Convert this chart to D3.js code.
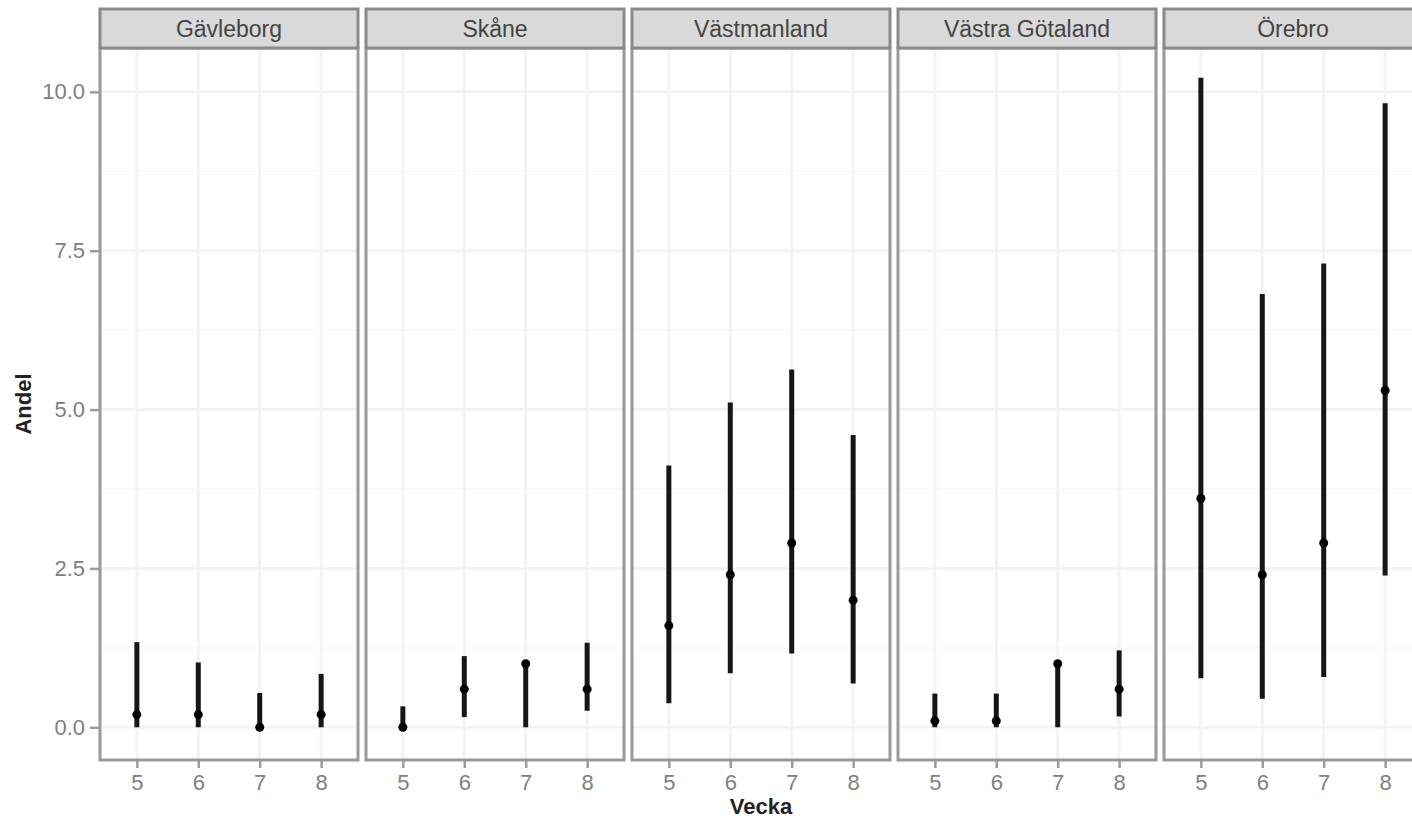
<!DOCTYPE html>
<html>
<head>
<meta charset="utf-8">
<script src="https://cdn.jsdelivr.net/npm/d3@7"></script>
<style>
  body { margin: 0; background: #fff; }
  svg { display: block; font-family: "Liberation Sans", Arial, sans-serif; }
  .axis path { display: none; }
  .axis line { stroke: #9a9a9a; stroke-width: 2.5; }
  .axis text { fill: #808080; font-size: 22px; }
</style>
</head>
<body>
<svg id="chart"></svg>
<script>
// regions (facets) and weeks
const regions = ['Gävleborg', 'Skåne', 'Västmanland', 'Västra Götaland', 'Örebro'];
const weeks = [5, 6, 7, 8];

// estimate per region, one value per week
const andel = [
  [0.2, 0.2, 0.0, 0.2],
  [0.0, 0.6, 1.0, 0.6],
  [1.6, 2.4, 2.9, 2.0],
  [0.1, 0.1, 1.0, 0.6],
  [3.6, 2.4, 2.9, 5.3]
];
// lower / upper interval bounds
const lower = [
  [0.0, 0.0, 0.0, 0.0],
  [0.0, 0.16, 0.0, 0.26],
  [0.38, 0.85, 1.16, 0.69],
  [0.0, 0.0, 0.0, 0.17],
  [0.77, 0.45, 0.79, 2.39]
];
const upper = [
  [1.34, 1.02, 0.54, 0.84],
  [0.33, 1.12, 1.01, 1.33],
  [4.12, 5.11, 5.63, 4.60],
  [0.53, 0.53, 1.01, 1.21],
  [10.22, 6.82, 7.30, 9.82]
];
const yTicks = [0, 2.5, 5, 7.5, 10];
const yMinor = [1.25, 3.75, 6.25, 8.75];

const [sizeX, sizeY] = [1412, 819];
const margin = {top: 48, right: -10, bottom: 59, left: 100};
const stripTop = 9;

const svg = d3.select('svg#chart')
  .attr('width', sizeX)
  .attr('height', sizeY);

// panel positions
const fx = d3.scaleBand()
  .domain(regions)
  .range([margin.left, sizeX - margin.right])
  .paddingInner(8 / 266);
const pw = fx.bandwidth();

const x = d3.scalePoint()
  .domain(weeks)
  .range([0, pw])
  .padding(0.6);

const y = d3.scaleLinear()
  .domain([-0.515, 10.69])
  .range([sizeY - margin.bottom, margin.top]);

const panelH = y.range()[0] - y.range()[1];

regions.forEach((reg, ri) => {
  let g = svg.append('g')
    .attr('transform', `translate(${fx(reg)},0)`);

  // panel background + grid
  g.append('rect')
    .attr('x', 0).attr('y', margin.top)
    .attr('width', pw).attr('height', panelH)
    .attr('fill', '#fff');

  g.selectAll('line.minor')
    .data(yMinor)
    .enter().append('line')
    .attr('class', 'minor')
    .attr('x1', 0).attr('x2', pw)
    .attr('y1', d => y(d)).attr('y2', d => y(d))
    .style('stroke', '#f9f9f9').style('stroke-width', 2);

  g.selectAll('line.major')
    .data(yTicks)
    .enter().append('line')
    .attr('class', 'major')
    .attr('x1', 0).attr('x2', pw)
    .attr('y1', d => y(d)).attr('y2', d => y(d))
    .style('stroke', '#f3f3f3').style('stroke-width', 3);

  g.selectAll('line.vgrid')
    .data(weeks)
    .enter().append('line')
    .attr('class', 'vgrid')
    .attr('x1', d => x(d)).attr('x2', d => x(d))
    .attr('y1', margin.top).attr('y2', margin.top + panelH)
    .style('stroke', '#f3f3f3').style('stroke-width', 3);

  // intervals
  let rows = weeks.map((w, i) => ({w: w, est: andel[ri][i], lo: lower[ri][i], hi: upper[ri][i]}));

  g.selectAll('line.range')
    .data(rows)
    .enter().append('line')
    .attr('class', 'range')
    .attr('x1', d => x(d.w)).attr('x2', d => x(d.w))
    .attr('y1', d => y(d.lo)).attr('y2', d => y(d.hi))
    .style('stroke', '#161616').style('stroke-width', 5);

  g.selectAll('circle.pt')
    .data(rows)
    .enter().append('circle')
    .attr('class', 'pt')
    .attr('cx', d => x(d.w)).attr('cy', d => y(d.est))
    .attr('r', 4.5)
    .style('fill', '#000');

  // panel border
  g.append('rect')
    .attr('x', 0).attr('y', margin.top)
    .attr('width', pw).attr('height', panelH)
    .attr('fill', 'none')
    .style('stroke', '#999').style('stroke-width', 3);

  // strip
  g.append('rect')
    .attr('x', 0).attr('y', stripTop)
    .attr('width', pw).attr('height', margin.top - stripTop)
    .attr('fill', '#d9d9d9')
    .style('stroke', '#8a8a8a').style('stroke-width', 3);

  g.append('text')
    .attr('x', pw / 2)
    .attr('y', (stripTop + margin.top) / 2 + 8)
    .style('text-anchor', 'middle')
    .style('font-size', '23px')
    .style('fill', '#444')
    .text(reg);

  // x axis
  g.append('g')
    .attr('class', 'axis xAxis')
    .attr('transform', `translate(0, ${margin.top + panelH + 1})`)
    .call(d3.axisBottom(x).tickSize(7).tickPadding(6));
});

// y axis on the first panel
svg.append('g')
  .attr('class', 'axis yAxis')
  .attr('transform', `translate(${fx(regions[0]) - 1}, 0)`)
  .call(d3.axisLeft(y).tickValues(yTicks).tickSize(9).tickFormat(d3.format('.1f')).tickPadding(5));

// axis titles
svg.append('text')
  .attr('x', fx(regions[0]) + 5 * (pw + 8) / 2 - 4)
  .attr('y', sizeY - 5)
  .style('text-anchor', 'middle')
  .style('font-size', '22px')
  .style('font-weight', 'bold')
  .style('fill', '#222')
  .text('Vecka');

svg.append('text')
  .attr('transform', `translate(31, ${(margin.top + y.range()[0]) / 2}) rotate(-90)`)
  .style('text-anchor', 'middle')
  .style('font-size', '22px')
  .style('font-weight', 'bold')
  .style('fill', '#222')
  .text('Andel');
</script>
</body>
</html>
